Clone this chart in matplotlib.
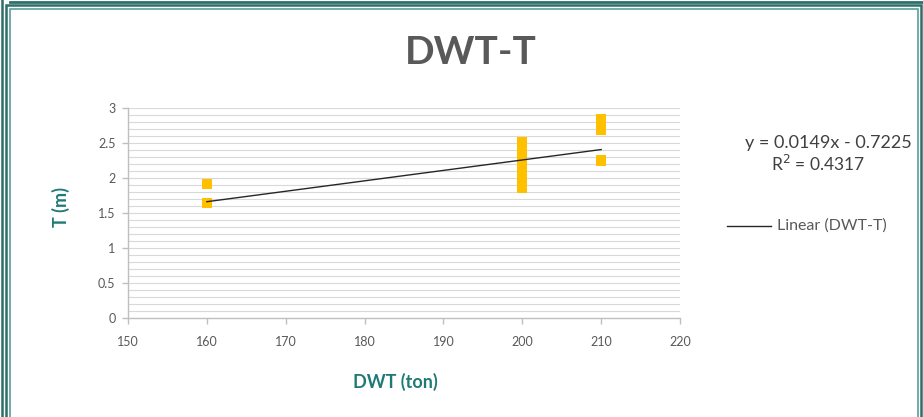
import numpy as np
import matplotlib.pyplot as plt
from matplotlib.lines import Line2D
from matplotlib.patches import Rectangle

# data
dwt = [160, 160,
       200, 200, 200, 200, 200, 200, 200, 200, 200,
       210, 210, 210, 210]
t = [1.91, 1.64,
     1.86, 1.93, 2.0, 2.08, 2.16, 2.24, 2.32, 2.42, 2.52,
     2.84, 2.76, 2.68, 2.25]
slope = 0.0149
intercept = -0.7225
r2 = 0.4317
x_ticks = [150, 160, 170, 180, 190, 200, 210, 220]
y_ticks = [0, 0.5, 1, 1.5, 2, 2.5, 3]

plt.rcParams['font.family'] = ['Lato', 'DejaVu Sans']

W, H = 923, 417
fig = plt.figure(figsize=(W / 100, H / 100), dpi=100)
fig.patch.set_facecolor('white')

# frame lines around the panel (pixel coords -> figure fraction)
teal = '#2d6f6b'
def fx(px):
    return px / W
def fy(py):
    return 1 - py / H

fig.add_artist(Line2D([fx(10), fx(923)], [fy(1.5), fy(1.5)], color=teal, lw=2))
fig.add_artist(Line2D([fx(2), fx(2)], [fy(0), fy(417)], color=teal, lw=1.8))
fig.add_artist(Rectangle((fx(6), fy(430)), fx(921) - fx(6), fy(5) - fy(430),
                         fill=False, ec=teal, lw=1.8))
fig.add_artist(Rectangle((fx(9.5), fy(430)), fx(918) - fx(9.5), fy(8.5) - fy(430),
                         fill=False, ec='#5a9e9a', lw=1.2))

ax = fig.add_axes([128 / W, 1 - 318 / H, 552 / W, 210 / H])

# light horizontal grid every 0.1
for g in np.arange(0.1, 3.01, 0.1):
    ax.axhline(g, color='#d9d9d9', lw=0.8, zorder=0)

# trend line
xs = np.array([min(dwt), max(dwt)])
ax.plot(xs, slope * xs + intercept, color='#262626', lw=1.0, zorder=3)

ax.scatter(dwt, t, marker='s', s=52, color='#FFC000', edgecolors='none', zorder=2)

ax.set_xlim(150, 220)
ax.set_ylim(0, 3)
ax.set_xticks(x_ticks)
ax.set_yticks(y_ticks)
ax.set_yticklabels(['0', '0.5', '1', '1.5', '2', '2.5', '3'])
for s in ['top', 'right']:
    ax.spines[s].set_visible(False)
for s in ['left', 'bottom']:
    ax.spines[s].set_color('#bfbfbf')
    ax.spines[s].set_linewidth(1.0)
ax.tick_params(axis='both', colors='#bfbfbf', labelcolor='#595959', labelsize=9,
               length=4, width=1.0)
ax.tick_params(axis='x', pad=9)
ax.tick_params(axis='y', pad=5)

ax.set_xlabel('DWT (ton)', color='#1f7a76', fontsize=13, fontweight='bold')
ax.set_ylabel('T (m)', color='#1f7a76', fontsize=13, fontweight='bold')
ax.xaxis.set_label_coords(0.485, -0.26)
ax.yaxis.set_label_coords(-0.105, 0.53)

fig.text(471 / W, fy(53), 'DWT-T', ha='center', va='center', fontsize=28,
         fontweight='bold', color='#595959')

fig.text(fx(828), fy(143), 'y = 0.0149x - 0.7225', ha='center', va='center',
         fontsize=13, color='#404040')
fig.text(fx(818), fy(164), 'R$^2$ = %.4f' % r2, ha='center', va='center',
         fontsize=12.5, color='#404040')

# legend entry for the trend line
fig.add_artist(Line2D([fx(727), fx(771)], [fy(226), fy(226)], color='#262626', lw=1.0))
fig.text(fx(777), fy(226), 'Linear (DWT-T)', ha='left', va='center',
         fontsize=11.5, color='#595959')

fig.savefig('out.png', dpi=100)
